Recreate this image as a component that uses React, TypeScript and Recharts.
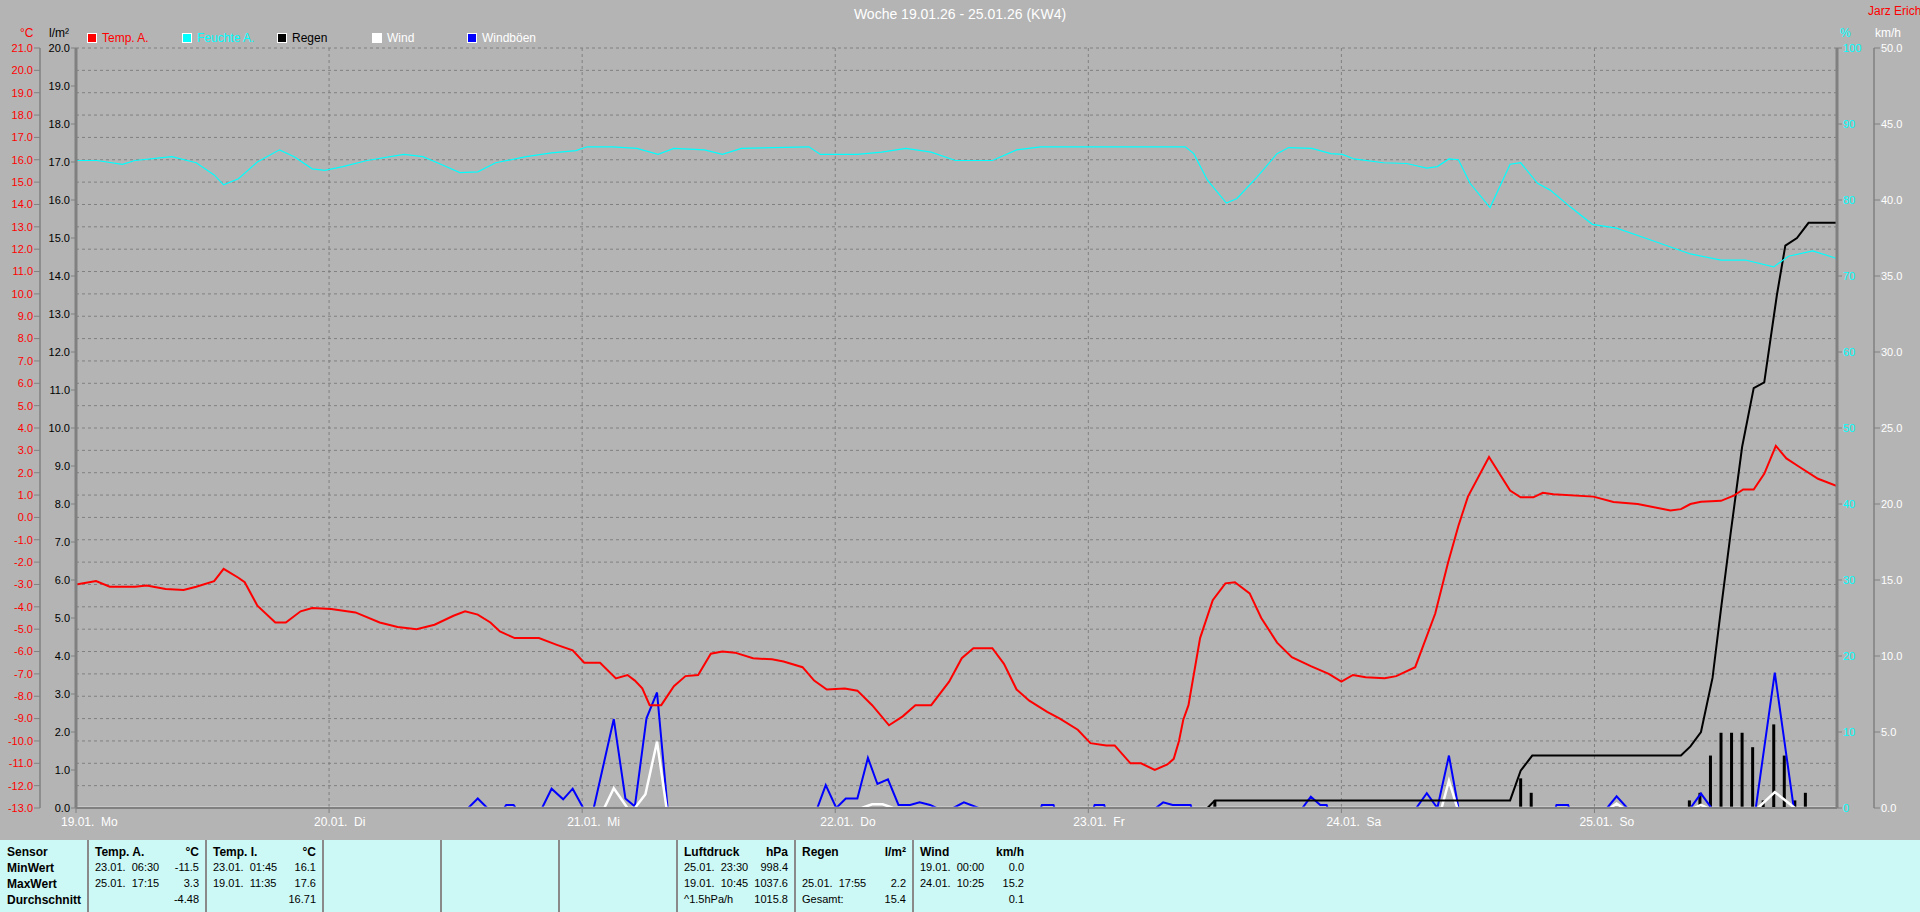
import React from 'react';
import { Bar, CartesianGrid, ComposedChart, Line, XAxis, YAxis } from 'recharts';

const FONT = '"Liberation Sans", Arial, sans-serif';

// x values are hours since 19.01. 00:00
const dayTicks = [0, 24, 48, 72, 96, 120, 144];
const dayLabels = ['19.01.  Mo', '20.01.  Di', '21.01.  Mi', '22.01.  Do', '23.01.  Fr', '24.01.  Sa', '25.01.  So'];
const tempTicks = [-13, -12, -11, -10, -9, -8, -7, -6, -5, -4, -3, -2, -1, 0, 1, 2, 3, 4, 5, 6, 7, 8, 9, 10, 11, 12, 13, 14, 15, 16, 17, 18, 19, 20, 21];
const rainTicks = [0, 1, 2, 3, 4, 5, 6, 7, 8, 9, 10, 11, 12, 13, 14, 15, 16, 17, 18, 19, 20];
const humTicks = [0, 10, 20, 30, 40, 50, 60, 70, 80, 90, 100];
const windTicks = [0, 5, 10, 15, 20, 25, 30, 35, 40, 45, 50];

const tempA: [number, number][] = [
  [0, -3.0], [1.9, -2.85], [3.2, -3.1], [5.6, -3.1], [6.7, -3.05], [8.5, -3.2], [10.2, -3.25], [11.4, -3.1],
  [13.1, -2.85], [14.0, -2.3], [15.4, -2.7], [16.0, -2.9], [17.2, -3.95], [18.9, -4.7], [19.9, -4.7], [21.3, -4.2],
  [22.4, -4.05], [24.2, -4.1], [26.5, -4.25], [28.8, -4.7], [30.5, -4.9], [32.3, -5.0], [34.0, -4.8], [35.8, -4.4],
  [36.9, -4.2], [38.1, -4.35], [39.3, -4.7], [40.2, -5.1], [41.6, -5.4], [43.9, -5.4], [45.6, -5.7], [47.1, -5.95],
  [48.2, -6.5], [49.7, -6.5], [51.2, -7.2], [52.3, -7.05], [53.0, -7.3], [53.7, -7.65], [54.4, -8.4], [55.5, -8.4],
  [56.7, -7.55], [57.8, -7.1], [59.0, -7.05], [60.2, -6.1], [61.3, -6.0], [62.5, -6.05], [64.2, -6.3], [66.0, -6.35],
  [67.1, -6.45], [68.9, -6.7], [70.0, -7.3], [71.2, -7.7], [72.9, -7.65], [74.1, -7.75], [75.5, -8.4], [77.1, -9.3],
  [78.4, -8.9], [79.6, -8.4], [81.1, -8.4], [82.8, -7.35], [84.0, -6.3], [85.1, -5.85], [86.9, -5.85], [88.0, -6.55],
  [89.2, -7.7], [90.4, -8.2], [92.1, -8.7], [93.3, -9.0], [95.0, -9.5], [96.2, -10.1], [97.7, -10.2], [98.5, -10.2],
  [100.0, -11.0], [101.0, -11.0], [102.3, -11.3], [103.5, -11.05], [104.1, -10.8], [104.6, -10.0], [105.0, -9.06],
  [105.5, -8.4], [106.6, -5.4], [107.8, -3.7], [109.0, -2.95], [109.9, -2.9], [111.3, -3.4], [112.4, -4.5],
  [113.9, -5.6], [115.3, -6.25], [117.1, -6.65], [118.8, -7.0], [120.0, -7.35], [121.1, -7.05], [122.3, -7.15],
  [124.1, -7.2], [125.2, -7.1], [127.0, -6.7], [128.9, -4.3], [130.1, -2.05], [131.1, -0.37], [132.0, 0.93],
  [134.0, 2.7], [136.0, 1.2], [137.0, 0.9], [138.2, 0.9], [139.1, 1.1], [140.1, 1.04], [143.9, 0.93], [145.8, 0.69],
  [148.1, 0.6], [151.2, 0.31], [152.2, 0.37], [153.1, 0.6], [154.1, 0.7], [156.0, 0.74], [157.2, 0.97], [158.1, 1.25],
  [159.1, 1.25], [160.1, 1.95], [161.2, 3.2], [162.2, 2.64], [163.3, 2.3], [165.2, 1.73], [167, 1.4],
];

const humidity: [number, number][] = [
  [0, 85.2], [2.0, 85.2], [4.4, 84.7], [5.6, 85.2], [9.1, 85.7], [11.4, 84.9], [13.1, 83.3], [14.0, 82.0],
  [15.4, 82.8], [17.2, 85.0], [19.3, 86.6], [20.7, 85.7], [22.4, 84.1], [23.6, 83.9], [25.3, 84.4], [27.6, 85.2],
  [31.1, 86.0], [32.9, 85.7], [34.6, 84.7], [36.4, 83.6], [38.1, 83.7], [39.8, 84.9], [42.7, 85.7], [45.1, 86.2],
  [47.4, 86.5], [48.5, 87.0], [50.9, 87.0], [53.2, 86.8], [55.2, 86.0], [56.7, 86.8], [59.6, 86.6], [61.3, 86.0],
  [63.1, 86.8], [69.5, 87.0], [70.6, 86.0], [74.1, 86.0], [76.4, 86.3], [78.7, 86.8], [81.1, 86.3], [83.4, 85.2],
  [86.9, 85.2], [89.2, 86.6], [91.5, 87.0], [105.2, 87.0], [106.0, 86.1], [107.3, 82.6], [109.1, 79.6],
  [110.1, 80.2], [112.0, 83.0], [113.9, 86.1], [115.0, 86.9], [117.2, 86.8], [119.0, 86.1], [120.1, 86.0],
  [121.2, 85.4], [124.0, 84.9], [126.2, 84.8], [128.1, 84.2], [129.1, 84.4], [130.2, 85.4], [131.1, 85.3],
  [132.2, 82.2], [134.1, 79.0], [136.0, 84.7], [137.0, 84.9], [138.6, 82.2], [139.8, 81.3], [141.7, 79.1],
  [143.8, 76.8], [146.1, 76.3], [149.0, 74.9], [153.1, 72.9], [156.0, 72.1], [158.3, 72.1], [161.0, 71.2],
  [162.4, 72.6], [164.7, 73.3], [167, 72.3],
];

const rainTotal: [number, number][] = [
  [0, 0], [107.3, 0], [108.0, 0.2], [136.0, 0.2], [137.0, 0.98], [138.1, 1.38], [152.2, 1.38], [153.1, 1.62],
  [154.1, 2.0], [155.2, 3.43], [156.0, 5.24], [156.9, 7.2], [158.0, 9.5], [159.1, 11.05], [160.1, 11.2],
  [161.3, 13.5], [162.1, 14.8], [163.2, 15.0], [164.3, 15.4], [167, 15.4],
];

const rainHourly: [number, number][] = [
  [108, 0.2], [137, 0.78], [138, 0.4], [153, 0.2], [154, 0.4], [155, 1.38], [156, 1.98], [157, 1.98],
  [158, 1.98], [159, 1.6], [160, 0.2], [161, 2.2], [162, 1.38], [163, 0.2], [164, 0.4],
];

const wind: [number, number][] = [
  [0, 0], [50.1, 0], [51.0, 1.3], [52.3, 0], [53.0, 0], [54.0, 0.9], [55.1, 4.36], [56.0, 0], [74.5, 0],
  [75.5, 0.25], [76.5, 0.25], [77.5, 0], [129.5, 0], [130.2, 1.8], [131.0, 0], [145.5, 0], [146.1, 0.3],
  [146.7, 0], [153.5, 0], [154.1, 0.2], [154.7, 0], [159.5, 0], [161.1, 1.05], [163.0, 0], [167, 0],
];

const gusts: [number, number][] = [
  [0, 0], [37.2, 0], [38.1, 0.63], [39.0, 0], [40.6, 0], [40.8, 0.2], [41.5, 0.2], [41.7, 0], [44.2, 0],
  [45.1, 1.27], [46.2, 0.57], [47.1, 1.27], [48.1, 0], [49.1, 0], [51.0, 5.85], [52.1, 0.63], [53.0, 0.1],
  [54.1, 5.9], [55.1, 7.6], [56.1, 0], [70.3, 0], [71.1, 1.5], [72.1, 0], [73.0, 0.63], [74.1, 0.63],
  [75.1, 3.3], [76.0, 1.58], [77.0, 1.89], [78.0, 0.2], [79.1, 0.2], [80.0, 0.37], [81.0, 0.2], [81.6, 0],
  [83.2, 0], [84.2, 0.37], [85.6, 0], [91.5, 0], [91.6, 0.2], [92.7, 0.2], [92.8, 0], [96.5, 0], [96.6, 0.2],
  [97.5, 0.2], [97.6, 0], [102.4, 0], [103.1, 0.37], [104.0, 0.2], [105.7, 0.2], [105.8, 0], [116.3, 0],
  [117.1, 0.74], [118.0, 0.2], [118.6, 0.2], [118.7, 0], [127.1, 0], [128.1, 0.97], [129.1, 0], [130.2, 3.45],
  [131.1, 0], [140.3, 0], [140.4, 0.2], [141.5, 0.2], [141.6, 0], [145.2, 0], [146.1, 0.77], [147.1, 0],
  [153.1, 0], [154.1, 0.95], [155.1, 0], [159.3, 0], [161.1, 8.9], [162.9, 0], [167, 0],
];

const legendItems = [
  { name: 'Temp. A.', color: '#ff0000', text: '#ff0000' },
  { name: 'Feuchte A.', color: '#00ffff', text: '#00ffff' },
  { name: 'Regen', color: '#000000', text: '#000000' },
  { name: 'Wind', color: '#ffffff', text: '#ffffff' },
  { name: 'Windböen', color: '#0000ff', text: '#ffffff' },
];

const statsColumns = [
  { head: ['Temp. A.', '°C'], rows: [['23.01.  06:30', '-11.5'], ['25.01.  17:15', '3.3'], ['', '-4.48']] },
  { head: ['Temp. I.', '°C'], rows: [['23.01.  01:45', '16.1'], ['19.01.  11:35', '17.6'], ['', '16.71']] },
  { head: ['', ''], rows: [] },
  { head: ['', ''], rows: [] },
  { head: ['', ''], rows: [] },
  { head: ['Luftdruck', 'hPa'], rows: [['25.01.  23:30', '998.4'], ['19.01.  10:45', '1037.6'], ['^1.5hPa/h', '1015.8']] },
  { head: ['Regen', 'l/m²'], rows: [['', ''], ['25.01.  17:55', '2.2'], ['Gesamt:', '15.4']] },
  { head: ['Wind', 'km/h'], rows: [['19.01.  00:00', '0.0'], ['24.01.  10:25', '15.2'], ['', '0.1']] },
];
const rowLabels = ['Sensor', 'MinWert', 'MaxWert', 'Durchschnitt'];

function buildRows() {
  const map = new Map<number, any>();
  const put = (series: [number, number][], key: string) =>
    series.forEach(([h, v]) => {
      const row = map.get(h) ?? { h };
      row[key] = v;
      map.set(h, row);
    });
  put(gusts, 'gust');
  put(wind, 'wind');
  put(rainHourly, 'rainH');
  put(rainTotal, 'rain');
  put(humidity, 'hum');
  put(tempA, 'temp');
  return [...map.values()].sort((a, b) => a.h - b.h);
}

const rows = buildRows();

function DayTick({ x, y, payload }: any) {
  const label = dayLabels[dayTicks.indexOf(payload.value)];
  return (
    <text x={x - 15} y={y + 11} fill="#ffffff" fontSize={12} fontFamily={FONT} style={{ whiteSpace: 'pre' }}>
      {label}
    </text>
  );
}

// hourly rain bars, fixed 3px wide, centred on the hour
function RainBar(props: any) {
  const { x, y, width, height } = props;
  if (!height || height <= 0) return null;
  return <rect x={x + width / 2 - 1.5} y={y} width={3} height={height} fill="#000000" />;
}

const abs = (left: number, top: number, extra: React.CSSProperties = {}): React.CSSProperties => ({
  position: 'absolute',
  left,
  top,
  whiteSpace: 'pre',
  ...extra,
});

const dividers = [88, 206, 323, 441, 559, 677, 795, 913];

export default function App() {
  return (
    <div style={{ position: 'absolute', left: 0, top: 0, width: 1920, height: 912, background: '#b4b4b4', fontFamily: FONT, overflow: 'hidden' }}>
      <div style={abs(0, 6, { width: 1920, textAlign: 'center', color: '#ffffff', fontSize: 14 })}>
        Woche 19.01.26 - 25.01.26 (KW4)
      </div>
      <div style={abs(1868, 4, { color: '#ff0000', fontSize: 12 })}>Jarz Erich</div>
      <div style={abs(20, 26, { color: '#ff0000', fontSize: 12 })}>°C</div>
      <div style={abs(49, 26, { color: '#000000', fontSize: 12 })}>l/m²</div>
      <div style={abs(1840, 26, { color: '#00ffff', fontSize: 12 })}>%</div>
      <div style={abs(1875, 26, { color: '#ffffff', fontSize: 12 })}>km/h</div>
      {legendItems.map((it, i) => (
        <div key={it.name} style={abs(87 + i * 95, 31, { display: 'flex', alignItems: 'center', fontSize: 12 })}>
          <span style={{ width: 8, height: 8, background: it.color, border: '1px solid #ffffff', display: 'inline-block' }} />
          <span style={{ color: it.text, marginLeft: 5 }}>{it.name}</span>
        </div>
      ))}

      <div style={abs(0, 0)}>
        <ComposedChart width={1920} height={840} data={rows} margin={{ top: 48, right: 0, bottom: 0, left: 0 }}>
          <CartesianGrid
            yAxisId="temp"
            stroke="#808080"
            strokeDasharray="3 3"
            horizontalValues={tempTicks}
            verticalValues={dayTicks}
          />
          <XAxis
            dataKey="h"
            type="number"
            domain={[0, 167]}
            ticks={dayTicks}
            interval={0}
            height={32}
            allowDataOverflow
            tick={<DayTick />}
            tickSize={5}
            tickLine={{ stroke: '#808080' }}
            axisLine={{ stroke: '#808080', strokeWidth: 2 }}
          />
          <XAxis
            xAxisId="top"
            orientation="top"
            type="number"
            domain={[0, 167]}
            height={0}
            tick={false}
            tickLine={false}
            axisLine={{ stroke: '#808080', strokeWidth: 3 }}
          />
          <YAxis
            yAxisId="rain"
            orientation="left"
            width={36}
            type="number"
            domain={[0, 20]}
            ticks={rainTicks}
            interval={0}
            allowDataOverflow
            tickFormatter={(v: number) => v.toFixed(1)}
            tick={{ fill: '#000000', fontSize: 11, fontFamily: FONT }}
            tickSize={5}
            tickMargin={1}
            tickLine={{ stroke: '#808080' }}
            axisLine={{ stroke: '#808080', strokeWidth: 3 }}
          />
          <YAxis
            yAxisId="temp"
            orientation="left"
            width={40}
            type="number"
            domain={[-13, 21]}
            ticks={tempTicks}
            interval={0}
            allowDataOverflow
            tickFormatter={(v: number) => v.toFixed(1)}
            tick={{ fill: '#ff0000', fontSize: 11, fontFamily: FONT }}
            tickSize={6}
            tickMargin={1}
            tickLine={{ stroke: '#808080' }}
            axisLine={{ stroke: '#808080', strokeWidth: 1.5 }}
          />
          <YAxis
            yAxisId="hum"
            orientation="right"
            width={37}
            type="number"
            domain={[0, 100]}
            ticks={humTicks}
            interval={0}
            allowDataOverflow
            tick={{ fill: '#00ffff', fontSize: 11, fontFamily: FONT }}
            tickSize={5}
            tickMargin={1}
            tickLine={{ stroke: '#808080' }}
            axisLine={{ stroke: '#808080', strokeWidth: 3 }}
          />
          <YAxis
            yAxisId="wind"
            orientation="right"
            width={46}
            type="number"
            domain={[0, 50]}
            ticks={windTicks}
            interval={0}
            allowDataOverflow
            tickFormatter={(v: number) => v.toFixed(1)}
            tick={{ fill: '#ffffff', fontSize: 11, fontFamily: FONT }}
            tickSize={6}
            tickMargin={1}
            tickLine={{ stroke: '#808080' }}
            axisLine={{ stroke: '#808080', strokeWidth: 1.5 }}
          />
          <Line yAxisId="wind" dataKey="gust" type="linear" stroke="#0000ff" strokeWidth={2} dot={false} connectNulls isAnimationActive={false} />
          <Line yAxisId="wind" dataKey="wind" type="linear" stroke="#ffffff" strokeWidth={2.5} dot={false} connectNulls isAnimationActive={false} />
          <Bar yAxisId="rain" dataKey="rainH" fill="#000000" shape={<RainBar />} isAnimationActive={false} />
          <Line yAxisId="rain" dataKey="rain" type="linear" stroke="#000000" strokeWidth={2} dot={false} connectNulls isAnimationActive={false} />
          <Line yAxisId="hum" dataKey="hum" type="linear" stroke="#00ffff" strokeWidth={1.2} dot={false} connectNulls isAnimationActive={false} />
          <Line yAxisId="temp" dataKey="temp" type="linear" stroke="#ff0000" strokeWidth={2} dot={false} connectNulls isAnimationActive={false} />
        </ComposedChart>
      </div>

      <div style={abs(0, 840, { width: 1920, height: 72, background: '#ccf8f5' })}>
        {dividers.map((x) => (
          <div key={x} style={abs(x - 1, 0, { width: 2, height: 72, background: '#8a8a8a' })} />
        ))}
        {rowLabels.map((t, i) => (
          <div key={t} style={abs(7, 5 + i * 16, { fontSize: 12, fontWeight: 'bold', color: '#000' })}>{t}</div>
        ))}
        {statsColumns.map((col, c) => {
          const left = dividers[c] + 7;
          const right = (c + 1 < dividers.length ? dividers[c + 1] : dividers[c] + 118) - 7;
          return (
            <React.Fragment key={c}>
              <div style={abs(left, 5, { fontSize: 12, fontWeight: 'bold', color: '#000' })}>{col.head[0]}</div>
              <div style={abs(left, 5, { width: right - left, textAlign: 'right', fontSize: 12, fontWeight: 'bold', color: '#000' })}>{col.head[1]}</div>
              {col.rows.map((r, i) => (
                <React.Fragment key={i}>
                  <div style={abs(left, 21 + i * 16, { fontSize: 11, color: '#000' })}>{r[0]}</div>
                  <div style={abs(left, 21 + i * 16, { width: right - left, textAlign: 'right', fontSize: 11, color: '#000' })}>{r[1]}</div>
                </React.Fragment>
              ))}
            </React.Fragment>
          );
        })}
      </div>
    </div>
  );
}
